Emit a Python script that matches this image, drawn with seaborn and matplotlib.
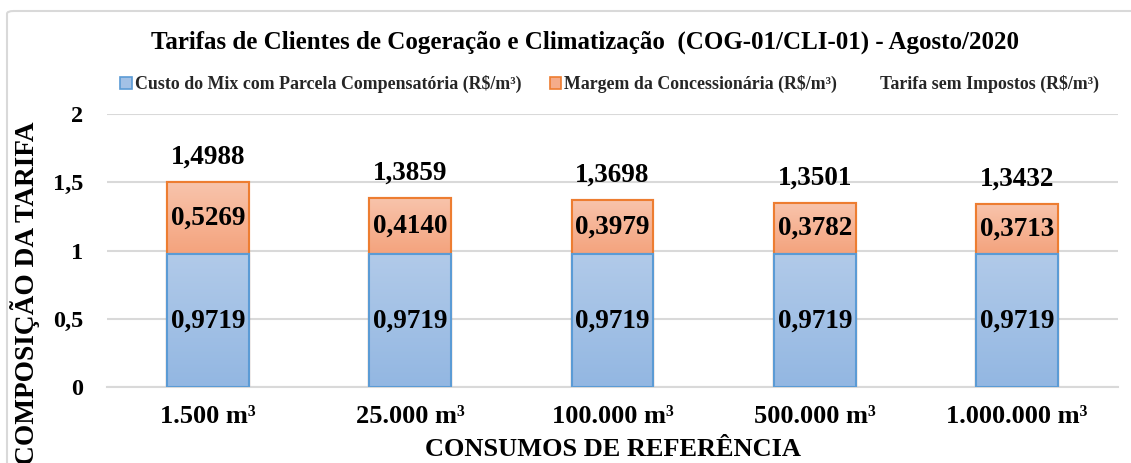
import numpy as np
import pandas as pd
import matplotlib
matplotlib.use("Agg")
import matplotlib.pyplot as plt
from matplotlib.patches import Patch, FancyBboxPatch
import seaborn as sns

# data
consumos = ['1.500 m³', '25.000 m³', '100.000 m³', '500.000 m³', '1.000.000 m³']
custo_mix = [0.9719, 0.9719, 0.9719, 0.9719, 0.9719]
margem = [0.5269, 0.4140, 0.3979, 0.3782, 0.3713]
tarifa = [1.4988, 1.3859, 1.3698, 1.3501, 1.3432]

df = pd.DataFrame({'consumo': consumos, 'custo': custo_mix, 'margem': margem, 'tarifa': tarifa})


def br(v):
    return f"{v:.4f}".replace('.', ',')


sns.set_theme(style="white")
plt.rcParams['font.family'] = ['Liberation Serif', 'DejaVu Serif']
plt.rcParams['font.weight'] = 'bold'
lbl = dict(fontsize=19.5, fontweight='bold', color='black', family='Liberation Serif')

fig = plt.figure(figsize=(11.31, 4.63), dpi=100)
ax = fig.add_axes([0.0946, 0.1641, 0.894, 0.5896])

# chart frame
frame = FancyBboxPatch((7 / 1131, -0.05), 1.1, 1.05 - 11 / 463,
                       boxstyle="round,pad=0,rounding_size=0.006",
                       transform=fig.transFigure, fill=False,
                       edgecolor='#D9D9D9', linewidth=1.5, zorder=0)
fig.patches.append(frame)

# total bar first (orange), then blue part on top of it
sns.barplot(data=df, x='consumo', y='tarifa', color='#F5AC8A', width=0.405,
            edgecolor='#ED7D31', linewidth=1.5, saturation=1, ax=ax, zorder=2)
sns.barplot(data=df, x='consumo', y='custo', color='#A3C1E6', width=0.405,
            edgecolor='#5B9BD5', linewidth=1.5, saturation=1, ax=ax, zorder=3)

orange = ax.containers[0]
blue = ax.containers[1]

# vertical gradients like the excel fill
grad = np.linspace(0, 1, 64).reshape(-1, 1)
for bars, top_c, bot_c, z in [(orange, '#F8C4AC', '#F4A37D', 2.1), (blue, '#B1CAE9', '#93B7E2', 3.1)]:
    cmap = matplotlib.colors.LinearSegmentedColormap.from_list('g', [bot_c, top_c])
    for k, p in enumerate(bars):
        x0 = p.get_x()
        w = p.get_width()
        y0 = custo_mix[k] if bars is orange else p.get_y()
        y1 = p.get_y() + p.get_height()
        im = ax.imshow(grad, extent=(x0, x0 + w, y0, y1), origin='lower',
                       cmap=cmap, aspect='auto', zorder=z)
        im.set_clip_path(p)
        # redraw edge above the gradient
        ax.add_patch(plt.Rectangle((x0, p.get_y()), w, p.get_height(), fill=False,
                                   edgecolor=p.get_edgecolor(), linewidth=1.5, zorder=z + 0.05))

ax.bar_label(blue, labels=[br(v) for v in custo_mix], label_type='center', zorder=5, **lbl)
for k, p in enumerate(blue):
    ax.text(p.get_x() + p.get_width() / 2, custo_mix[k] + margem[k] / 2, br(margem[k]),
            ha='center', va='center', zorder=5, **lbl)
ax.bar_label(orange, labels=[br(v) for v in tarifa], padding=9, zorder=5, **lbl)

ax.set_xlim(-0.5, 4.5)
ax.set_ylim(0, 2)
ax.set_yticks([0, 0.5, 1, 1.5, 2])
ax.set_yticklabels(['0', '0,5', '1', '1,5', '2'])
ax.yaxis.grid(True, color='#D9D9D9', linewidth=1.5)
ax.set_axisbelow(True)
for s in ['top', 'right', 'left']:
    ax.spines[s].set_visible(False)
ax.spines['bottom'].set_color('#D9D9D9')
ax.spines['bottom'].set_linewidth(1.5)
ax.tick_params(axis='x', length=0, pad=13, labelsize=19, labelcolor='black')
ax.tick_params(axis='y', length=0, pad=17, labelsize=17.5, labelcolor='black')
for t in ax.get_xticklabels() + ax.get_yticklabels():
    t.set_fontweight('bold')

ax.set_xlabel('CONSUMOS DE REFERÊNCIA', fontsize=19, fontweight='bold', color='black', labelpad=0)
ax.xaxis.set_label_coords(0.5, -0.185)
ax.set_ylabel('COMPOSIÇÃO DA TARIFA', fontsize=19.7, fontweight='bold', color='black')
ax.yaxis.set_label_coords(-0.066, 0.345)

fig.text(0.517, 0.909, 'Tarifas de Clientes de Cogeração e Climatização  (COG-01/CLI-01) - Agosto/2020',
         ha='center', va='center', fontsize=18, fontweight='bold', color='black')

handles = [Patch(facecolor='#A3C1E6', edgecolor='#5B9BD5', linewidth=1.2),
           Patch(facecolor='#F5AC8A', edgecolor='#ED7D31', linewidth=1.2),
           Patch(facecolor='none', edgecolor='none')]
labels = ['Custo do Mix com Parcela Compensatória (R$/m³)', 'Margem da Concessionária (R$/m³)',
          'Tarifa sem Impostos (R$/m³)']
fig.legend(handles, labels, loc='center', bbox_to_anchor=(0.539, 0.8186), ncol=3, frameon=False,
           prop={'size': 12.9, 'weight': 'bold'}, handlelength=0.65, handleheight=0.65,
           handletextpad=0.15, columnspacing=1.6)

fig.savefig('out.png', dpi=100)
